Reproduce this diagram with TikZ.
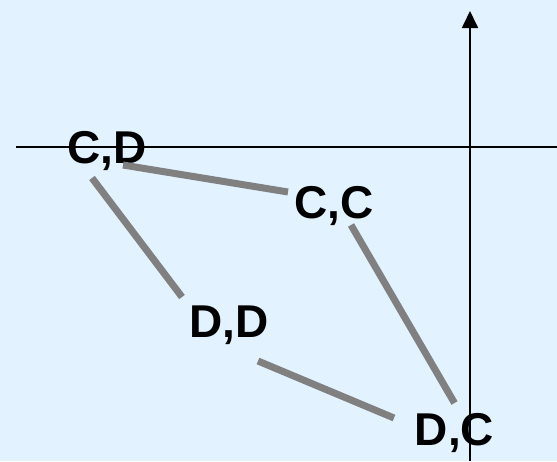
\documentclass[tikz,border=0pt]{standalone}
\usepackage{fontspec}
\setmainfont{Liberation Sans}
\usetikzlibrary{arrows.meta}

\definecolor{bgblue}{RGB}{227,242,255}
\definecolor{edgegray}{RGB}{128,128,128}

\tikzset{
  payoff/.style={font=\fontsize{46}{55}\selectfont\bfseries, inner sep=0pt, anchor=base},
  edge/.style={draw=edgegray, line width=7pt},
  axis/.style={draw=black, line width=1.8pt}
}

\begin{document}
\begin{tikzpicture}[x=1pt,y=-1pt]
  \fill[bgblue] (0,0) rectangle (557,461);
  \useasboundingbox (0,0) rectangle (557,461);

  % axes
  \coordinate (xl) at (16,147);
  \coordinate (xr) at (557,147);
  \coordinate (yb) at (470,461);
  \coordinate (yt) at (470,11);
  \draw[axis] (xl) -- (xr);
  \draw[axis, -{Triangle[width=16pt,length=17pt]}] (yb) -- (yt);

  % outcomes
  \node[payoff] (CD) at (107,163) {C,D};
  \node[payoff] (CC) at (334,218) {C,C};
  \node[payoff] (DD) at (229,337) {D,D};
  \node[payoff] (DC) at (454.5,445) {D,C};

  \draw[edge] ([shift={(16,2)}]CD.base) -- ([shift={(-46,-26)}]CC.base);
  \draw[edge] ([shift={(-15,15)}]CD.base) -- ([shift={(-47,-40)}]DD.base);
  \draw[edge] ([shift={(17,7)}]CC.base) -- ([shift={(0,-42)}]DC.base);
  \draw[edge] ([shift={(29,24)}]DD.base) -- ([shift={(-60.5,-27)}]DC.base);
\end{tikzpicture}
\end{document}
